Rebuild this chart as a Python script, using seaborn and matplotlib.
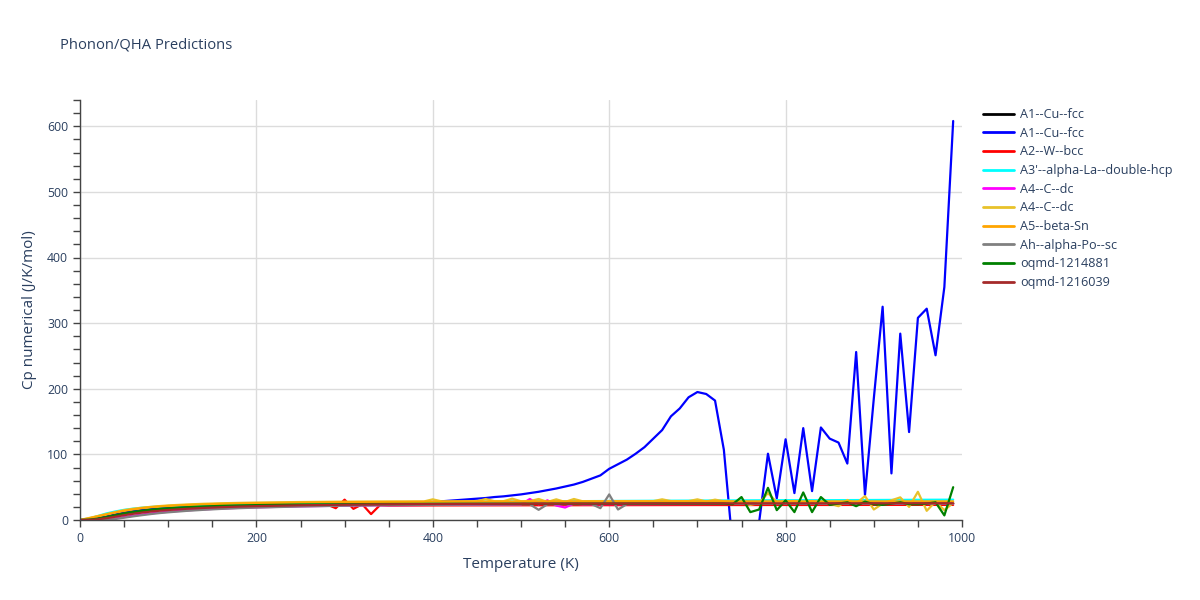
import matplotlib
matplotlib.use("Agg")
import matplotlib.pyplot as plt
from matplotlib.ticker import MultipleLocator
import seaborn as sns

# temperature grids (K)
T_COARSE = [0, 10, 20, 30, 40, 50, 60, 70, 80, 90, 100, 120, 140, 160, 180, 200, 250, 300, 350,
            400, 450, 500, 550, 600, 650, 700, 750, 800, 850, 900, 950, 990]
T_LOW = [0, 10, 20, 30, 40, 50, 60, 70, 80, 90, 100, 120, 140, 160, 180, 200, 250, 300, 350]
T_DENSE = list(range(360, 1000, 10))

T_black = T_COARSE
cp_black = [0, 0.4, 2.2, 5.0, 8.0, 10.8, 13.0, 14.8, 16.3, 17.5, 18.5, 20.0, 21.0, 21.8, 22.4, 22.8,
            23.5, 24.0, 24.3, 24.5, 24.6, 24.7, 24.8, 24.9, 25.0, 25.0, 25.1, 25.1, 25.2, 25.2, 25.3, 25.3]

T_blue = T_LOW + T_DENSE
cp_blue = [0, 0.4, 2.2, 5.0, 8.0, 10.8, 13.0, 14.8, 16.3, 17.5, 18.5, 20.0, 21.0, 21.8, 22.4, 22.8,
           23.6, 24.3, 25.2,
           25.5, 26, 26.5, 27, 27.5, 28.5, 29.5, 30.5, 31.5, 32.5,
           33.5, 35, 36, 37.5, 39, 41, 43, 45.5, 48, 51,
           54, 58, 63, 68, 78, 85, 92, 101, 111, 124,
           137, 158, 170, 187, 195, 192, 182, 107, -40, -150,
           -90, -3, 101, 33, 123, 41, 140, 44, 141, 124,
           118, 86, 256, 38, 185, 325, 71, 284, 134, 308,
           322, 251, 355, 608]

T_red = [0, 10, 20, 30, 40, 50, 60, 70, 80, 90, 100, 120, 140, 160, 180, 200, 250,
         280, 290, 300, 310, 320, 330, 340, 350,
         400, 450, 500, 550, 600, 650, 700, 750, 800, 850, 900, 950, 990]
cp_red = [0, 0.3, 1.5, 4.0, 7.0, 9.5, 11.5, 13.3, 14.8, 16.0, 17.0, 18.6, 19.8, 20.7, 21.4, 22.0, 23.0,
          23.5, 18.0, 31.0, 17.0, 24.0, 9.0, 22.5, 22.0,
          22.2, 22.3, 22.4, 22.5, 22.6, 22.7, 22.8, 22.8, 22.9, 22.9, 23.0, 23.0, 23.0]

T_cyan = T_COARSE
cp_cyan = [0, 2.0, 6.0, 10.0, 13.0, 15.5, 17.3, 18.7, 19.8, 20.7, 21.4, 22.5, 23.3, 23.9, 24.4, 24.8,
           25.6, 26.2, 26.8, 27.3, 27.8, 28.2, 28.6, 29.0, 29.3, 29.6, 29.9, 30.2, 30.2, 30.5, 30.8, 31.0]

T_magenta = [0, 10, 20, 30, 40, 50, 60, 70, 80, 90, 100, 120, 140, 160, 180, 200, 250, 300, 350,
             400, 450, 500, 510, 520, 530, 540, 550, 560, 570,
             600, 650, 700, 750, 800, 850, 900, 950, 990]
cp_magenta = [0, 0, 0.3, 1.0, 2.5, 4.5, 6.5, 8.3, 10.0, 11.4, 12.6, 14.6, 16.2, 17.5, 18.5, 19.3,
              20.8, 21.8, 22.5,
              23.0, 23.4, 23.8, 32.0, 24.0, 30.0, 22.0, 19.0, 25.0, 24.0,
              24.2, 24.3, 24.4, 24.5, 24.6, 24.6, 24.7, 24.7, 24.8]

T_gold = T_LOW + T_DENSE
cp_gold = [0, 3.0, 6.0, 9.0, 12.0, 15.0, 17.0, 18.7, 20.0, 21.2, 22.2, 23.6, 24.7, 25.5, 26.1, 26.6,
           27.4, 28.0, 28.2,
           28.2, 28.2, 28.3, 28.3, 31.5, 28.4, 28.4, 28.5, 28.5, 28.5,
           32.0, 28.6, 28.6, 32.5, 28.6, 28.7, 32.0, 27.5, 31.5, 27.5,
           32.0, 28.5, 28.7, 28.7, 28.8, 28.8, 28.8, 28.8, 28.8, 28.8,
           31.5, 28.8, 28.8, 28.8, 31.5, 28.2, 31.0, 28.5, 28.0, 26.0,
           23.0, 26.0, 41.0, 27.0, 28.0, 29.0, 26.0, 29.0, 26.0, 25.0,
           21.0, 30.5, 25.0, 36.5, 16.0, 25.0, 30.0, 34.5, 20.0, 43.0,
           14.0, 28.0, 15.0, 26.0]

T_orange = T_COARSE
cp_orange = [0, 2.5, 5.5, 8.5, 11.5, 14.0, 16.2, 18.0, 19.4, 20.5, 21.4, 22.8, 23.8, 24.6, 25.2, 25.7,
             26.6, 27.2, 27.6, 27.9, 28.1, 28.2, 28.3, 28.3, 28.4, 28.4, 28.4, 28.4, 28.4, 28.4, 28.4, 28.4]

T_gray = T_LOW + [400, 450, 500, 510, 520, 530, 540, 550, 560, 570, 580, 590, 600, 610, 620,
                  650, 700, 750, 800, 850, 900, 950, 990]
cp_gray = [0, 0, 0, 0.5, 1.5, 3.5, 5.5, 7.3, 9.0, 10.5, 11.7, 13.8, 15.5, 16.9, 18.0, 18.9,
           20.6, 21.8, 22.6,
           23.1, 23.5, 23.8, 23.9, 15.5, 24.0, 24.0, 24.1, 24.1, 24.1, 24.2, 18.0, 39.0, 16.0, 24.2,
           24.3, 24.4, 24.5, 24.6, 24.7, 24.8, 24.9, 25.0]

T_green = T_LOW + [400, 450, 500, 550, 600, 650, 700] + list(range(730, 1000, 10))
cp_green = [0, 0.5, 2.0, 4.5, 7.3, 10.0, 12.2, 14.0, 15.5, 16.8, 17.8, 19.4, 20.6, 21.5, 22.2, 22.7,
            23.6, 24.1, 24.4,
            24.6, 24.7, 24.8, 24.9, 24.9, 25.0, 25.0,
            25.0, 24.0, 35.0, 12.0, 16.0, 49.0, 15.0, 30.0, 12.0, 42.0,
            12.0, 35.0, 23.0, 25.0, 27.0, 21.0, 28.0, 24.0, 23.0, 25.0,
            27.0, 24.0, 24.0, 25.0, 27.0, 7.0, 50.0]

T_brown = T_COARSE
cp_brown = [0, 0.2, 1.0, 2.8, 5.0, 7.3, 9.4, 11.2, 12.8, 14.1, 15.2, 17.0, 18.4, 19.5, 20.4, 21.1,
            22.4, 23.3, 23.9, 24.3, 24.6, 24.8, 25.0, 25.1, 25.2, 25.2, 25.3, 25.3, 25.4, 25.4, 25.5, 25.5]

labels = ["A1--Cu--fcc", "A1--Cu--fcc", "A2--W--bcc", "A3'--alpha-La--double-hcp", "A4--C--dc",
          "A4--C--dc", "A5--beta-Sn", "Ah--alpha-Po--sc", "oqmd-1214881", "oqmd-1216039"]
colors = ["black", "blue", "red", "cyan", "magenta", "#e8c22a", "orange", "gray", "green", "brown"]
series = [(T_black, cp_black), (T_blue, cp_blue), (T_red, cp_red), (T_cyan, cp_cyan),
          (T_magenta, cp_magenta), (T_gold, cp_gold), (T_orange, cp_orange), (T_gray, cp_gray),
          (T_green, cp_green), (T_brown, cp_brown)]

txt = "#2a3f5f"
sns.set_theme(style="white")
plt.rcParams["font.family"] = ["Open Sans", "DejaVu Sans"]

fig = plt.figure(figsize=(12, 6), dpi=100)
ax = fig.add_axes([80 / 1200, 80 / 600, 882 / 1200, 420 / 600])

for (t, cp), lab, col in zip(series, labels, colors):
    sns.lineplot(x=t, y=cp, color=col, label=lab, linewidth=1.6, ax=ax, estimator=None, sort=False)

ax.set_xlim(0, 1000)
ax.set_ylim(0, 640)
ax.xaxis.set_major_locator(MultipleLocator(200))
ax.xaxis.set_minor_locator(MultipleLocator(50))
ax.yaxis.set_major_locator(MultipleLocator(100))
ax.yaxis.set_minor_locator(MultipleLocator(20))
ax.grid(True, which="major", color="#dcdcdc", linewidth=1)
ax.set_axisbelow(True)
for s in ["top", "right"]:
    ax.spines[s].set_visible(False)
for s in ["left", "bottom"]:
    ax.spines[s].set_color("#444444")
    ax.spines[s].set_linewidth(1)
ax.tick_params(which="both", direction="out", length=5, width=1, color="#444444",
               labelsize=8.8, labelcolor=txt, left=True, bottom=True)
ax.set_xlabel("Temperature (K)", fontsize=11, color=txt, labelpad=9)
ax.set_ylabel("Cp numerical (J/K/mol)", fontsize=11, color=txt, labelpad=7)

fig.text(60 / 1200, 1 - 45 / 600, "Phonon/QHA Predictions", fontsize=10.6, color=txt, va="center")

leg = ax.legend(loc="upper left", bbox_to_anchor=(1.02, 0.99), frameon=False, fontsize=9.1,
                handlelength=2.4, handletextpad=0.5, labelspacing=0.45, borderaxespad=0, borderpad=0.3)
for t in leg.get_texts():
    t.set_color(txt)
for h in leg.get_lines():
    h.set_linewidth(2)

# no gridline on the right edge (1000 K)
fig.canvas.draw()
for tick in ax.xaxis.get_major_ticks():
    if tick.get_loc() >= 999:
        tick.gridline.set_visible(False)

fig.savefig("out.png", dpi=100)
